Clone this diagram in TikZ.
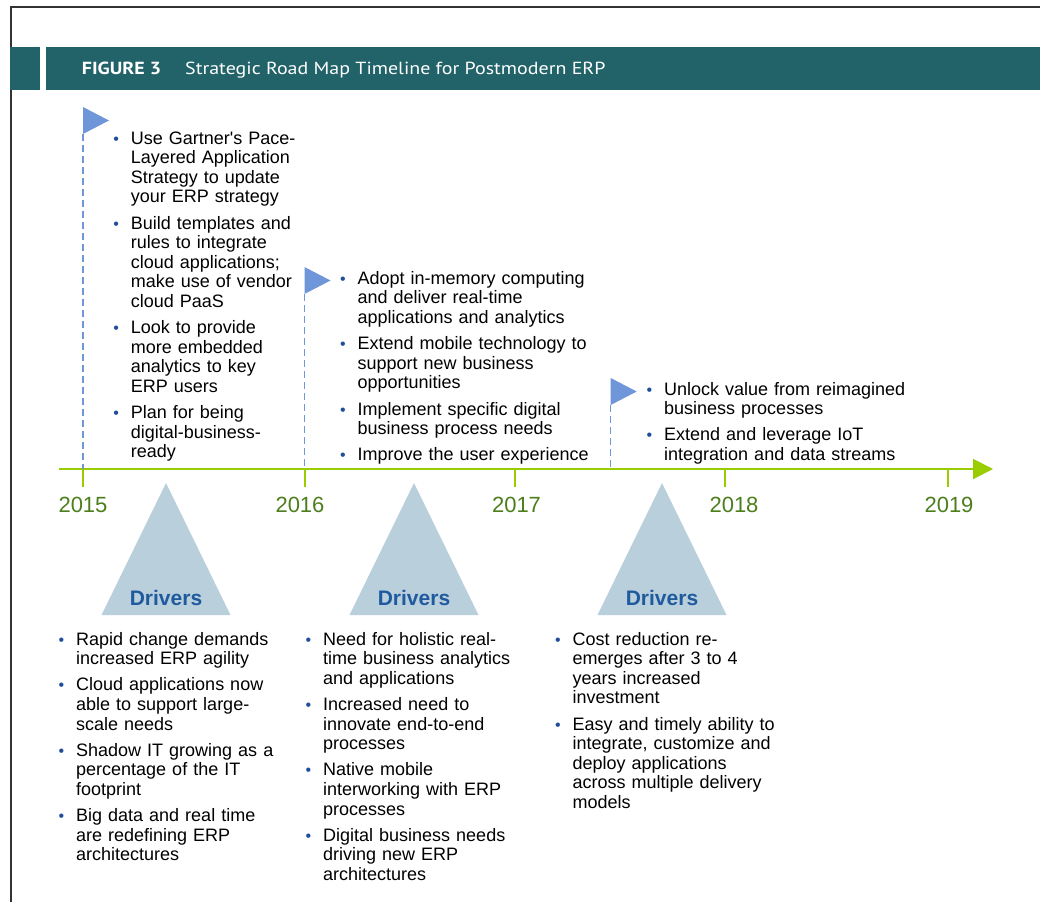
\documentclass[tikz,border=0pt]{standalone}
\usepackage{fontspec}
\setmainfont{Liberation Sans}
\newfontfamily\headfont[FakeStretch=1.14]{PT Sans}
\usepackage{xcolor}
\usetikzlibrary{arrows.meta,positioning}

\definecolor{headteal}{HTML}{22636A}
\definecolor{framegray}{HTML}{333333}
\definecolor{tlgreen}{HTML}{9ACD00}
\definecolor{yeargreen}{HTML}{4C7E1C}
\definecolor{flagblue}{HTML}{6E96D8}
\definecolor{drvfill}{HTML}{B9CFDC}
\definecolor{drvblue}{HTML}{1F5A9E}
\definecolor{bulletblue}{HTML}{1F4E9A}

% one bulleted item with a hanging indent; lines are broken by hand with \newline
\newcommand{\rmitem}[1]{\hangindent=17pt\hangafter=1\noindent
  \makebox[17pt][l]{\hspace{-0.5pt}\textcolor{bulletblue}{\fontsize{16}{16}\selectfont\textbullet}}%
  #1\par\vspace{6.6pt}}

\tikzset{
  itemblock/.style={anchor=base west, inner sep=0pt, text width=300pt,
    font=\fontsize{18}{19.6}\selectfont},
  yearlabel/.style={anchor=base, text=yeargreen, font=\fontsize{22}{22}\selectfont},
  drvlabel/.style={anchor=base, text=drvblue, font=\fontsize{21}{21}\selectfont\bfseries},
  pole/.style={flagblue, line width=1.3pt, dash pattern=on 7pt off 4pt},
}

\begin{document}
\begin{tikzpicture}[x=1pt, y=-1pt]
  \useasboundingbox (0,0) rectangle (1040,902);

  % Frame and title bar.
  \draw[framegray, line width=1.2pt] (11,902) -- (11,7) -- (1040,7);
  \fill[headteal] (10,47) rectangle (1040,89.5);
  \fill[white] (40,47) rectangle (45.5,89.5);
  \node[anchor=base west, inner sep=0pt, text=white, font=\headfont\fontsize{17.5}{17.5}\selectfont\bfseries]
    (fignum) at (81.7,74) {FIGURE 3};
  \node[anchor=base west, inner sep=0pt, text=white, font=\headfont\fontsize{17.5}{17.5}\selectfont]
    (figtitle) at (185,74) {Strategic Road Map Timeline for Postmodern ERP};

  % Time axis with year ticks.
  \coordinate (axis) at (0,469);
  \draw[tlgreen, line width=2pt, -{Triangle[length=20pt, width=20pt]}] (59,469) -- (993,469);
  \foreach \x/\lx/\yr in {82.7/83/2015, 305/300/2016, 515/516.5/2017, 725/734/2018, 948/949/2019}{
    \draw[tlgreen, line width=2pt] (\x,469) -- (\x,487);
    \node[yearlabel] (y\yr) at (\lx,512) {\yr};
  }

  % Milestone flags on dashed poles.
  \foreach \i/\x/\y in {1/83/107, 2/304.5/267, 3/610.7/378}{
    \coordinate (f\i) at (\x,\y+27);
    \fill[flagblue] (\x,\y) -- (\x+26,\y+13.5) -- (\x,\y+27) -- cycle;
    \draw[pole] (f\i) -- (f\i |- axis);
  }

  % Driver triangles.
  \foreach \i/\x in {1/166, 2/414, 3/662}{
    \fill[drvfill] (\x,483) -- (\x+64.5,615) -- (\x-64.5,615) -- cycle;
    \node[drvlabel] (drv\i) at (\x,605) {Drivers};
  }

  % Actions above the axis.
  \node[itemblock] (act1) at (113.7,144) {%
    \rmitem{Use Gartner\textquotesingle s Pace-\newline Layered Application\newline Strategy to update\newline your ERP strategy}
    \rmitem{Build templates and\newline rules to integrate\newline cloud applications;\newline make use of vendor\newline cloud PaaS}
    \rmitem{Look to provide\newline more embedded\newline analytics to key\newline ERP users}
    \rmitem{Plan for being\newline digital-business-\newline ready}};
  \node[itemblock] (act2) at (340.3,284.3) {%
    \rmitem{Adopt in-memory computing\newline and deliver real-time\newline applications and analytics}
    \rmitem{Extend mobile technology to\newline support new business\newline opportunities}
    \rmitem{Implement specific digital\newline business process needs}
    \rmitem{Improve the user experience}};
  \node[itemblock] (act3) at (647,395) {%
    \rmitem{Unlock value from reimagined\newline business processes}
    \rmitem{Extend and leverage IoT\newline integration and data streams}};

  % Drivers below the triangles.
  \node[itemblock] (why1) at (59,645) {%
    \rmitem{Rapid change demands\newline increased ERP agility}
    \rmitem{Cloud applications now\newline able to support large-\newline scale needs}
    \rmitem{Shadow IT growing as a\newline percentage of the IT\newline footprint}
    \rmitem{Big data and real time\newline are redefining ERP\newline architectures}};
  \node[itemblock] (why2) at (306,645) {%
    \rmitem{Need for holistic real-\newline time business analytics\newline and applications}
    \rmitem{Increased need to\newline innovate end-to-end\newline processes}
    \rmitem{Native mobile\newline interworking with ERP\newline processes}
    \rmitem{Digital business needs\newline driving new ERP\newline architectures}};
  \node[itemblock] (why3) at (555.3,645) {%
    \rmitem{Cost reduction re-\newline emerges after 3 to 4\newline years increased\newline investment}
    \rmitem{Easy and timely ability to\newline integrate, customize and\newline deploy applications\newline across multiple delivery\newline models}};
\end{tikzpicture}
\end{document}
